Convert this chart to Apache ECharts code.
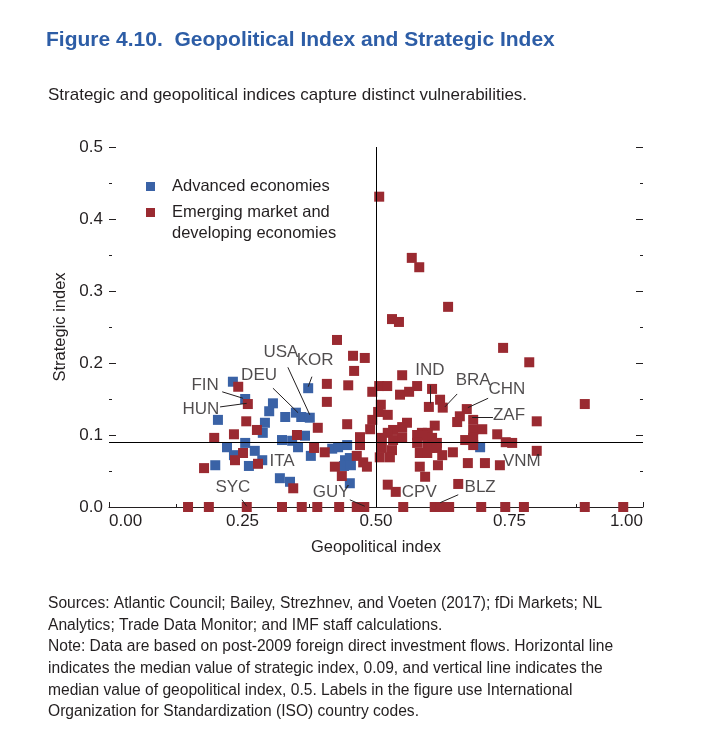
<!DOCTYPE html>
<html><head><meta charset="utf-8">
<script src="https://cdn.jsdelivr.net/npm/echarts@6/dist/echarts.min.js"></script>
<style>html,body{margin:0;padding:0;background:#fff}#c{width:722px;height:745px}</style>
</head><body><div id="c"></div>
<script>
const FONT = '"Liberation Sans Narrow","Arial Narrow","Liberation Sans",Arial,sans-serif';
const TXT = '#231f20';
const BLUE = '#3a62a6';
const RED = '#9a2a31';

const seriesNames = ['Advanced economies', 'Emerging market and developing economies'];
const xTickValues = [0, 0.25, 0.5, 0.75, 1];
const yTickValues = [0, 0.1, 0.2, 0.3, 0.4, 0.5];
const medianStrategic = 0.09;
const medianGeopolitical = 0.5;

// [geopolitical index, strategic index]
const advanced = [
  [0.232,0.174],[0.255,0.150],[0.307,0.144],[0.300,0.133],[0.330,0.125],[0.350,0.131],[0.360,0.125],
  [0.376,0.124],[0.373,0.165],[0.204,0.121],[0.292,0.117],[0.288,0.103],[0.255,0.089],[0.221,0.083],
  [0.324,0.093],[0.343,0.092],[0.273,0.078],[0.234,0.072],[0.287,0.065],[0.199,0.058],[0.262,0.057],
  [0.320,0.040],[0.339,0.035],[0.367,0.099],[0.354,0.083],[0.378,0.071],[0.418,0.081],[0.429,0.083],
  [0.446,0.086],[0.442,0.065],[0.451,0.068],[0.440,0.057],[0.453,0.058],[0.451,0.033],[0.695,0.083]
];
const emerging = [
  [0.242,0.167],[0.260,0.143],[0.257,0.119],[0.277,0.107],[0.197,0.096],[0.234,0.101],[0.251,0.075],
  [0.236,0.065],[0.279,0.060],[0.178,0.054],[0.345,0.026],[0.352,0.100],[0.384,0.082],[0.404,0.076],
  [0.391,0.110],[0.408,0.171],[0.408,0.146],[0.427,0.232],[0.457,0.210],[0.479,0.207],[0.459,0.189],
  [0.448,0.169],[0.493,0.160],[0.446,0.115],[0.470,0.097],[0.470,0.086],[0.489,0.108],[0.493,0.121],
  [0.423,0.056],[0.464,0.071],[0.476,0.062],[0.483,0.056],[0.436,0.043],
  [0.148,0],[0.187,0],[0.258,0],[0.324,0],[0.361,0],[0.390,0],[0.431,0],[0.464,0],[0.478,0],
  [0.551,0],[0.610,0],[0.620,0],[0.637,0],[0.697,0],[0.742,0],[0.777,0],[0.891,0],[0.963,0],
  [0.506,0.431],[0.567,0.346],[0.581,0.333],[0.635,0.278],[0.530,0.261],[0.543,0.257],[0.738,0.221],
  [0.787,0.201],[0.891,0.143],[0.801,0.119],[0.549,0.183],[0.506,0.168],[0.521,0.168],[0.577,0.168],
  [0.545,0.156],[0.562,0.160],[0.605,0.164],[0.509,0.142],[0.599,0.139],[0.620,0.149],[0.625,0.138],
  [0.670,0.136],[0.657,0.126],[0.682,0.121],[0.652,0.118],[0.522,0.128],[0.504,0.132],[0.610,0.113],
  [0.558,0.117],[0.549,0.111],[0.532,0.107],[0.522,0.103],[0.586,0.103],[0.597,0.103],[0.682,0.107],
  [0.699,0.108],[0.727,0.101],[0.511,0.096],[0.532,0.093],[0.549,0.097],[0.577,0.100],[0.588,0.099],
  [0.605,0.096],[0.614,0.089],[0.577,0.089],[0.596,0.086],[0.601,0.082],[0.614,0.082],[0.511,0.082],
  [0.530,0.079],[0.507,0.069],[0.526,0.069],[0.582,0.075],[0.596,0.075],[0.624,0.072],[0.644,0.076],
  [0.667,0.093],[0.682,0.086],[0.672,0.061],[0.616,0.058],[0.582,0.056],[0.592,0.042],[0.522,0.031],
  [0.537,0.021],[0.654,0.032],[0.682,0.096],[0.743,0.090],[0.755,0.089],[0.801,0.078],[0.704,0.061],
  [0.732,0.058]
];

// country code annotations: text anchor, and leader line (from, to) in data units
const countryCodes = ['FIN','HUN','DEU','USA','KOR','IND','BRA','CHN','ZAF','VNM','ITA','SYC','GUY','CPV','BLZ'];
const codeAnchors = [
  [0.180,0.169],[0.172,0.135],[0.281,0.183],[0.322,0.215],[0.386,0.204],[0.601,0.190],[0.682,0.176],
  [0.745,0.164],[0.749,0.128],[0.773,0.063],[0.324,0.063],[0.232,0.028],[0.416,0.021],[0.581,0.021],[0.695,0.028]
];
const leaderLines = [
  [[0.212,0.160],[0.251,0.151]],
  [[0.208,0.139],[0.258,0.144]],
  [[0.307,0.165],[0.354,0.131]],
  [[0.335,0.194],[0.376,0.128]],
  [[0.380,0.181],[0.373,0.167]],
  [[0.601,0.169],[0.601,0.144]],
  [[0.652,0.157],[0.629,0.139]],
  [[0.710,0.151],[0.672,0.138]],
  [[0.719,0.125],[0.680,0.125]],
  [[0.249,0.010],[0.258,0.001]],
  [[0.451,0.010],[0.479,0.001]],
  [[0.654,0.017],[0.620,0.006]]
];

const titleText = 'Figure 4.10.  Geopolitical Index and Strategic Index';
const subtitleText = 'Strategic and geopolitical indices capture distinct vulnerabilities.';
const noteLines = [
  'Sources: Atlantic Council; Bailey, Strezhnev, and Voeten (2017); fDi Markets; NL',
  'Analytics; Trade Data Monitor; and IMF staff calculations.',
  'Note: Data are based on post-2009 foreign direct investment flows. Horizontal line',
  'indicates the median value of strategic index, 0.09, and vertical line indicates the',
  'median value of geopolitical index, 0.5. Labels in the figure use International',
  'Organization for Standardization (ISO) country codes.'
];

const chart = echarts.init(document.getElementById('c'), null, {renderer: 'canvas'});
const option = {
  animation: false,
  backgroundColor: '#fff',
  textStyle: {fontFamily: FONT, color: TXT},
  title: [
    {text: titleText, left: 46, top: 30, padding: 0,
     textStyle: {fontFamily: FONT, fontWeight: 'bold', fontSize: 21, color: '#2d5da6'}},
    {text: subtitleText, left: 48, top: 87, padding: 0,
     textStyle: {fontFamily: FONT, fontWeight: 'normal', fontSize: 17, color: TXT}},
    {text: noteLines.join('\n'), left: 48, top: 593, padding: 0,
     textStyle: {fontFamily: FONT, fontWeight: 'normal', fontSize: 15.6, lineHeight: 21.6, color: TXT}}
  ],
  legend: {
    orient: 'vertical', left: 146, top: 176, padding: 0,
    itemWidth: 9, itemHeight: 9, itemGap: -16, icon: 'rect',
    textStyle: {fontFamily: FONT, fontSize: 16.5, lineHeight: 21, color: TXT, padding: [0,0,0,12]},
    formatter: n => n === seriesNames[1] ? '\nEmerging market and\ndeveloping economies' : n,
    data: [{name: seriesNames[0]}, {name: seriesNames[1]}],
    selectedMode: false
  },
  grid: {left: 109, right: 79, top: 147, bottom: 238},
  xAxis: {
    type: 'value', min: xTickValues[0], max: xTickValues[xTickValues.length-1], interval: 0.25,
    name: 'Geopolitical index', nameLocation: 'middle', nameGap: 32,
    nameTextStyle: {fontFamily: FONT, fontSize: 16.5, color: TXT},
    axisLine: {show: true, lineStyle: {color: TXT, width: 1}},
    axisTick: {show: true, inside: true, length: 5, lineStyle: {color: TXT}},
    minorTick: {show: true, splitNumber: 2, length: 3, lineStyle: {color: TXT}},
    axisLabel: {formatter: v => v.toFixed(2), fontFamily: FONT, fontSize: 17, color: TXT, margin: 6,
      alignMinLabel: 'left', alignMaxLabel: 'right'},
    splitLine: {show: false}
  },
  yAxis: [
    {type: 'value', min: yTickValues[0], max: yTickValues[yTickValues.length-1], interval: 0.1,
     name: 'Strategic index', nameLocation: 'middle', nameGap: 40,
     nameTextStyle: {fontFamily: FONT, fontSize: 16.5, color: TXT},
     axisLine: {show: false},
     axisTick: {show: true, inside: true, length: 7, lineStyle: {color: TXT}},
     minorTick: {show: true, splitNumber: 2, length: 3, lineStyle: {color: TXT}},
     axisLabel: {formatter: v => v.toFixed(1), fontFamily: FONT, fontSize: 17, color: TXT, margin: 6},
     splitLine: {show: false}},
    {type: 'value', position: 'right', min: yTickValues[0], max: yTickValues[yTickValues.length-1], interval: 0.1,
     axisLine: {show: false},
     axisTick: {show: true, inside: true, length: 7, lineStyle: {color: TXT}},
     minorTick: {show: true, splitNumber: 2, length: 3, lineStyle: {color: TXT}},
     axisLabel: {show: false}, splitLine: {show: false}}
  ],
  series: [
    {type: 'scatter', name: 'medians', data: [], z: 1, silent: true,
     markLine: {silent: true, symbol: ['none','none'], label: {show: false},
       lineStyle: {color: '#000', width: 1, type: 'solid'},
       data: [{yAxis: medianStrategic}, {xAxis: medianGeopolitical}]}},
    {type: 'scatter', name: seriesNames[0], data: advanced, symbol: 'rect', symbolSize: 10, z: 2,
     itemStyle: {color: BLUE, opacity: 1}},
    {type: 'scatter', name: seriesNames[1], data: emerging, symbol: 'rect', symbolSize: 10, z: 3,
     itemStyle: {color: RED, opacity: 1}},
    {type: 'lines', coordinateSystem: 'cartesian2d', z: 4, silent: true,
     lineStyle: {color: TXT, width: 1, opacity: 1},
     data: leaderLines.map(c => ({coords: c}))},
    {type: 'scatter', name: 'codes', z: 5, silent: true, symbolSize: 0,
     data: countryCodes.map((n, i) => ({name: n, value: codeAnchors[i]})),
     label: {show: true, position: 'inside', formatter: '{b}', fontFamily: FONT, fontSize: 17, color: TXT}}
  ]
};
chart.setOption(option);
</script>
</body></html>
